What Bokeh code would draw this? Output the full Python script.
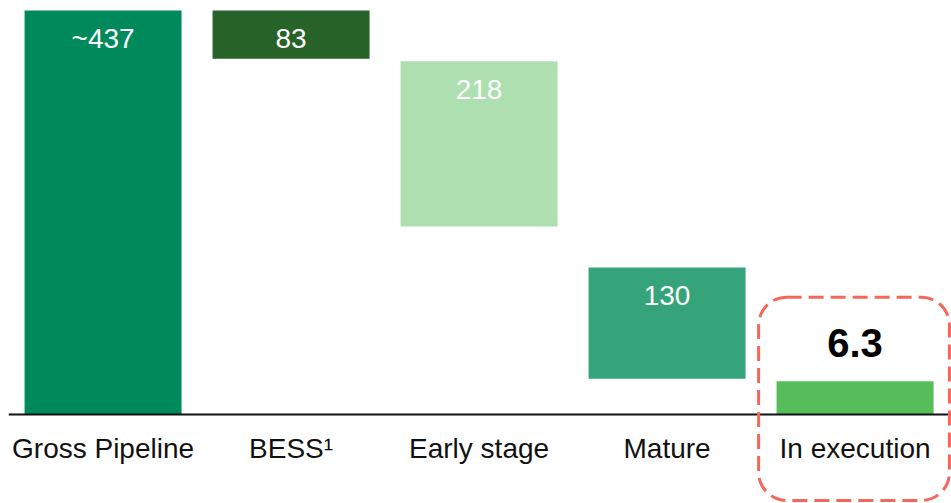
from bokeh.plotting import figure
from bokeh.models import Range1d, Span, BoxAnnotation, ColumnDataSource
from bokeh.core.properties import value
from bokeh.embed import file_html
from bokeh.resources import INLINE

# ---- data ----
categories = ["Gross Pipeline", "BESS\u00b9", "Early stage", "Mature", "In execution"]
values = [437, 83, 218, 130, 6.3]
value_labels = ["~437", "83", "218", "130", "6.3"]
# bar extents as drawn in the reference (chart units, baseline = 0)
bar_top = [437, 437, 382.2, 159.0, 36.0]
bar_bottom = [0, 384.8, 203.4, 38.6, 0]
colors = ["#00895A", "#276229", "#ADDFB0", "#35A47B", "#55BE5B"]
highlight_index = 4
highlight_top = 126.9
highlight_bottom = -93.0

FONT = "Liberation Sans"
xs = list(range(len(categories)))

p = figure(width=951, height=503, output_backend="svg", toolbar_location=None,
           x_range=Range1d(-0.503, 4.513), y_range=Range1d(-96.3, 439.2),
           min_border_left=8, min_border_top=8, min_border_right=0,
           min_border_bottom=0, outline_line_color=None)
p.axis.visible = False
p.grid.visible = False
p.background_fill_color = "white"
p.border_fill_color = "white"

src = ColumnDataSource(dict(x=xs, top=bar_top, bottom=bar_bottom, color=colors,
                            cat=categories, lab=value_labels))
p.vbar(x="x", top="top", bottom="bottom", width=0.835, fill_color="color",
       line_color=None, source=src)

# baseline
p.add_layout(Span(location=0, dimension="width", line_color="#111111", line_width=2))

# value labels inside bars (white)
inside = ColumnDataSource(dict(x=xs[:4], y=bar_top[:4], lab=value_labels[:4]))
p.text(x="x", y="y", text="lab", source=inside, text_align="center",
       text_baseline="alphabetic", y_offset=28, text_color="white",
       text_font=value(FONT), text_font_size="28px")

# highlighted value above the last bar
hl = ColumnDataSource(dict(x=[xs[highlight_index]], y=[bar_top[highlight_index]],
                           lab=[value_labels[highlight_index]]))
p.text(x="x", y="y", text="lab", source=hl, text_align="center",
       text_baseline="alphabetic", y_offset=-38, text_color="black",
       text_font=value(FONT), text_font_size="40px", text_font_style="bold")

# category labels under the baseline
cats = ColumnDataSource(dict(x=xs, y=[0] * len(xs), cat=categories))
p.text(x="x", y="y", text="cat", source=cats, text_align="center",
       text_baseline="alphabetic", y_offset=34, text_color="#111111",
       text_font=value(FONT), text_font_size="28px")

# dashed rounded highlight box
box = BoxAnnotation(left=highlight_index - 0.513, right=highlight_index + 0.502,
                    top=highlight_top, bottom=highlight_bottom,
                    fill_alpha=0, line_alpha=1.0, line_color="#F4675A", line_width=3,
                    line_dash="15 7", border_radius=28)
p.add_layout(box)

open("out.html", "w").write(file_html(p, INLINE))
